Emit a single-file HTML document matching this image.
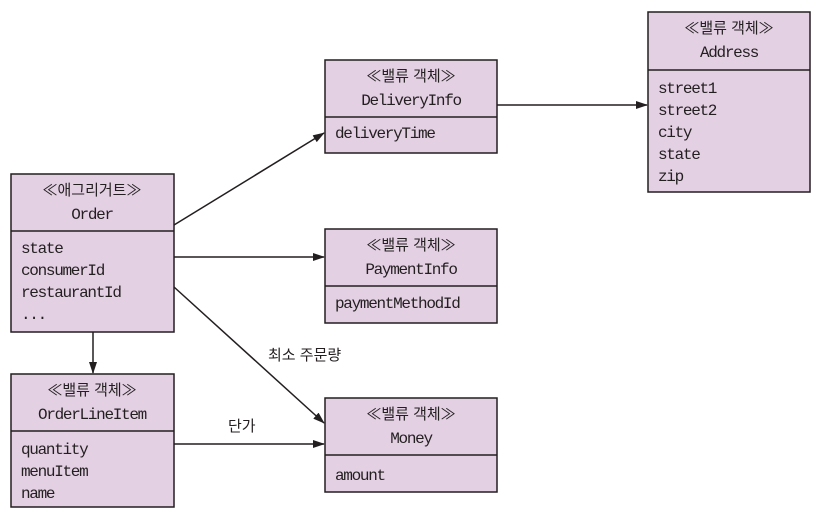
<!DOCTYPE html>
<html><head><meta charset="utf-8"><style>
html,body{margin:0;padding:0;background:#fff;}
svg text{font-family:"Liberation Mono","Noto Sans CJK KR",monospace;font-size:16px;letter-spacing:-1.3px;fill:#231f20;}
svg text.k{font-family:"Liberation Sans","Noto Sans CJK KR",sans-serif;font-size:15px;letter-spacing:0;}
</style></head><body>
<svg width="823" height="524" viewBox="0 0 823 524" xmlns="http://www.w3.org/2000/svg">
<defs><marker id="a" markerWidth="12" markerHeight="8" refX="11" refY="4" orient="auto" markerUnits="userSpaceOnUse"><path d="M0,0 L12,4 L0,8 z" fill="#231f20"/></marker></defs>
<g fill="#e3d0e3" stroke="#231f20" stroke-width="1.5">
<rect x="11" y="174" width="163" height="158"/><line x1="11" y1="231" x2="174" y2="231"/>
<rect x="11" y="374" width="163" height="133"/><line x1="11" y1="431" x2="174" y2="431"/>
<rect x="325" y="60" width="172" height="93"/><line x1="325" y1="117" x2="497" y2="117"/>
<rect x="325" y="229" width="172" height="94"/><line x1="325" y1="286" x2="497" y2="286"/>
<rect x="325" y="398" width="172" height="94"/><line x1="325" y1="455" x2="497" y2="455"/>
<rect x="648" y="12" width="162" height="180"/><line x1="648" y1="70" x2="810" y2="70"/>
</g>
<g stroke="#231f20" stroke-width="1.5" marker-end="url(#a)">
<line x1="174" y1="225" x2="324" y2="133"/>
<line x1="174" y1="257" x2="324" y2="257"/>
<line x1="174" y1="287" x2="324" y2="423"/>
<line x1="93" y1="332" x2="93" y2="373"/>
<line x1="174" y1="444" x2="324" y2="444"/>
<line x1="497" y1="105" x2="647" y2="105"/>
</g>
<g text-anchor="middle">
<text class="k" x="92" y="195">≪애그리거트≫</text><text x="92" y="219">Order</text>
<text class="k" x="92" y="395">≪밸류 객체≫</text><text x="92" y="419">OrderLineItem</text>
<text class="k" x="411" y="81">≪밸류 객체≫</text><text x="411" y="105">DeliveryInfo</text>
<text class="k" x="411" y="250">≪밸류 객체≫</text><text x="411" y="274">PaymentInfo</text>
<text class="k" x="411" y="419">≪밸류 객체≫</text><text x="411" y="443">Money</text>
<text class="k" x="729" y="33">≪밸류 객체≫</text><text x="729" y="57">Address</text>
</g>
<text x="21" y="253">state</text><text x="21" y="275">consumerId</text><text x="21" y="297">restaurantId</text><text x="21" y="319">...</text>
<text x="21" y="454">quantity</text><text x="21" y="476">menuItem</text><text x="21" y="498">name</text>
<text x="335" y="138">deliveryTime</text>
<text x="335" y="308">paymentMethodId</text>
<text x="335" y="480">amount</text>
<text x="658" y="93">street1</text><text x="658" y="115">street2</text><text x="658" y="137">city</text><text x="658" y="159">state</text><text x="658" y="181">zip</text>
<text class="k" x="268" y="360">최소 주문량</text>
<text class="k" x="228" y="431">단가</text>
</svg>
</body></html>
